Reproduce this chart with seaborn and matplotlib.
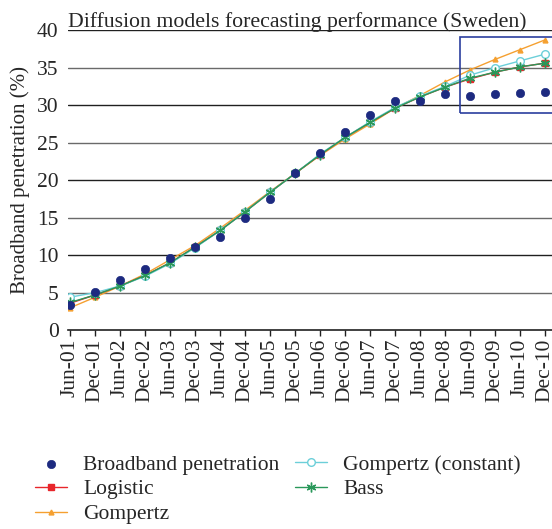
import numpy as np
import pandas as pd
import matplotlib.pyplot as plt
import seaborn as sns
from matplotlib.patches import Rectangle

sns.set_style('white')
plt.rcParams['font.family'] = ['Liberation Serif', 'DejaVu Serif']

periods = ['Jun-01', 'Dec-01', 'Jun-02', 'Dec-02', 'Jun-03', 'Dec-03', 'Jun-04', 'Dec-04',
           'Jun-05', 'Dec-05', 'Jun-06', 'Dec-06', 'Jun-07', 'Dec-07', 'Jun-08', 'Dec-08',
           'Jun-09', 'Dec-09', 'Jun-10', 'Dec-10']

broadband = [3.3, 5.1, 6.7, 8.2, 9.6, 11.1, 12.4, 14.9, 17.5, 20.9,
             23.6, 26.4, 28.7, 30.6, 30.6, 31.5, 31.2, 31.5, 31.6, 31.8]
logistic = [3.6, 4.7, 5.9, 7.3, 9.0, 11.1, 13.3, 15.8, 18.4, 20.9,
            23.4, 25.7, 27.7, 29.6, 31.1, 32.4, 33.5, 34.4, 35.1, 35.6]
gompertz = [3.0, 4.4, 5.9, 7.5, 9.4, 11.3, 13.6, 16.0, 18.5, 20.9,
            23.3, 25.5, 27.5, 29.6, 31.3, 33.1, 34.7, 36.1, 37.4, 38.7]
gompertz_const = [4.4, 5.0, 5.9, 7.2, 8.9, 11.0, 13.3, 15.8, 18.4, 20.9,
                  23.5, 25.7, 27.8, 29.7, 31.2, 32.5, 34.0, 35.0, 35.9, 36.8]
bass = [3.7, 4.7, 5.9, 7.3, 9.0, 11.1, 13.3, 15.8, 18.4, 20.9,
        23.4, 25.7, 27.7, 29.6, 31.1, 32.4, 33.6, 34.4, 35.1, 35.6]

idx = np.arange(len(periods))
models = pd.DataFrame({
    'idx': np.tile(idx, 4),
    'value': logistic + gompertz + gompertz_const + bass,
    'model': np.repeat(['Logistic', 'Gompertz', 'Gompertz (constant)', 'Bass'], len(idx)),
})
obs = pd.DataFrame({'idx': idx, 'value': broadband})

colors = {'Logistic': '#e8262b', 'Gompertz': '#f5a030',
          'Gompertz (constant)': '#6ccfd9', 'Bass': '#2a985a'}
markers = {'Logistic': 's', 'Gompertz': '^', 'Gompertz (constant)': 'o', 'Bass': (6, 2, 0)}
msizes = {'Logistic': 4, 'Gompertz': 3.5, 'Gompertz (constant)': 5.5, 'Bass': 7}
zorders = {'Logistic': 3, 'Gompertz': 2, 'Gompertz (constant)': 3, 'Bass': 4}

fig = plt.figure(figsize=(5.52, 5.29), dpi=100)
ax = fig.add_axes([0.124, 0.376, 0.876, 0.567])

# gridlines first so the data sits on top
for v in range(5, 45, 5):
    ax.axhline(v, color='#202020' if v % 10 == 0 else '#6a6a6a', lw=1.0, zorder=0)

sns.scatterplot(data=obs, x='idx', y='value', color='#1d2a80', s=36, edgecolor='#1d2a80',
                linewidth=0.5, ax=ax, zorder=5, label='Broadband penetration')

for name in ['Logistic', 'Gompertz', 'Gompertz (constant)', 'Bass']:
    sub = models[models['model'] == name]
    face = 'white' if name == 'Gompertz (constant)' else colors[name]
    sns.lineplot(data=sub, x='idx', y='value', color=colors[name], marker=markers[name],
                 markersize=msizes[name], markerfacecolor=face, markeredgecolor=colors[name],
                 markeredgewidth=1.0, lw=1.0, ax=ax, label=name, zorder=zorders[name])

# highlight box around the forecast period
ax.add_patch(Rectangle((15.6, 28.9), 3.8, 10.2, fill=False, edgecolor='#2b3e9e',
                       lw=1.2, zorder=6, clip_on=False))

ax.set_xlim(-0.08, 19.28)
ax.set_ylim(0, 40)
ax.set_xticks(idx)
ax.set_xticklabels(periods, rotation=90, fontsize=15.5)
ax.set_yticks(range(0, 45, 5))
ax.tick_params(axis='y', labelsize=15.5, length=0, pad=7)
ax.tick_params(axis='x', length=4, width=1, direction='out', color='#202020', pad=2, bottom=True)
for s in ['top', 'right', 'left']:
    ax.spines[s].set_visible(False)
ax.spines['bottom'].set_color('#202020')
ax.spines['bottom'].set_linewidth(1.2)
ax.set_xlabel('')
ax.set_ylabel('Broadband penetration (%)', fontsize=15, labelpad=5)
ax.set_title('Diffusion models forecasting performance (Sweden)', fontsize=15.7,
             loc='left', pad=2)

handles, labels = ax.get_legend_handles_labels()
ax.legend(handles, labels, ncol=2, loc='upper left', bbox_to_anchor=(-0.087, -0.386),
          frameon=False, fontsize=15.5, handlelength=1.5, handletextpad=0.75,
          columnspacing=0.7, labelspacing=0.22, borderaxespad=0)

fig.savefig('out.png', dpi=100)
